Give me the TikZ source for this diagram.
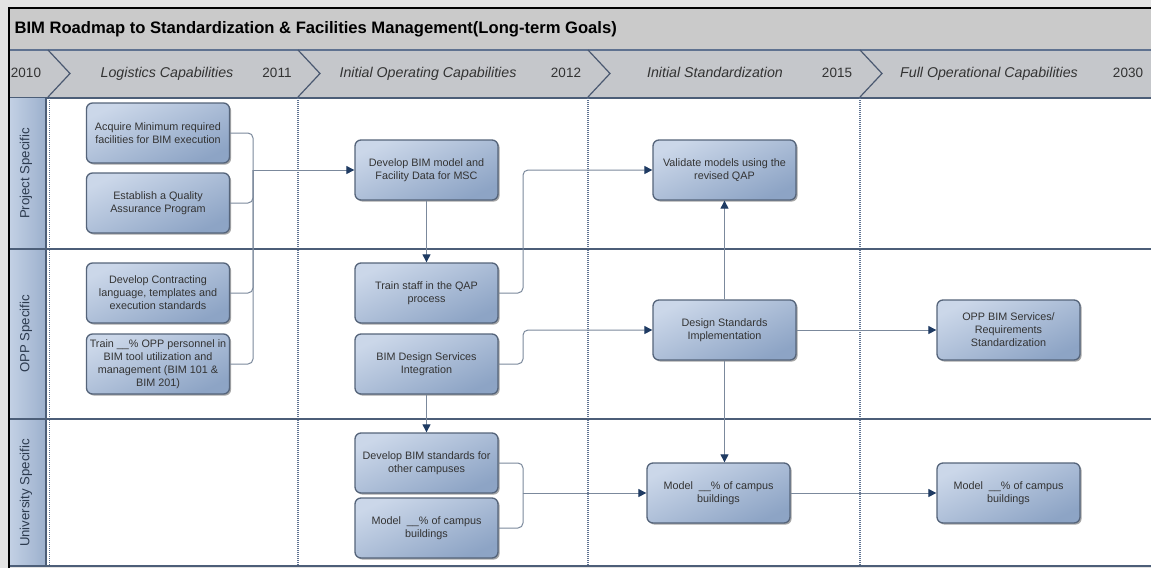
\documentclass[tikz,border=0pt]{standalone}
\usepackage{fontspec}
\setmainfont{Liberation Sans}
\usetikzlibrary{arrows.meta,shadows}

\definecolor{pagegray}{HTML}{E2E2E2}
\definecolor{titlegray}{HTML}{CACACA}
\definecolor{bandgray}{HTML}{C5C7CB}
\definecolor{rulecol}{HTML}{4C5E78}
\definecolor{dotcol}{HTML}{5F7290}
\definecolor{boxtop}{HTML}{CBD7E9}
\definecolor{boxbot}{HTML}{8DA4C5}
\definecolor{boxline}{HTML}{55647A}
\definecolor{wirecol}{HTML}{7B899C}
\definecolor{tipblue}{HTML}{1F3B63}
\definecolor{ink}{HTML}{333333}
\definecolor{laneink}{HTML}{2C3A4E}
\definecolor{lanelight}{HTML}{C2D0E4}
\definecolor{lanedark}{HTML}{9CB0CD}
\definecolor{chevcol}{HTML}{4A5870}

\tikzset{
  task/.style={draw=boxline, line width=1.3pt, rounded corners=6pt,
    top color=boxtop, bottom color=boxbot, shading angle=25,
    minimum width=143pt, minimum height=60pt, inner xsep=2pt,
    align=center, text=ink, font=\fontsize{10.8}{13}\selectfont,
    drop shadow={shadow xshift=1.6pt, shadow yshift=-1.6pt, opacity=0.35, fill=black}},
  link/.style={draw=wirecol, line width=1pt, rounded corners=5pt},
  flow/.style={link, -{Triangle[length=8pt,width=8pt,color=tipblue]}},
  lanehead/.style={left color=lanelight, right color=lanedark},
  lanelabel/.style={rotate=90, text=laneink, font=\fontsize{13.2}{16}\selectfont},
  phase/.style={text=ink, text height=10pt, text depth=3pt, font=\fontsize{14.2}{16}\selectfont\itshape},
  year/.style={text=ink, text height=10pt, text depth=3pt, font=\fontsize{13.5}{16}\selectfont},
  chev/.style={draw=chevcol, line width=1.2pt},
  colline/.style={draw=dotcol, line width=1.2pt, dash pattern=on 1pt off 1pt},
  laneline/.style={draw=rulecol, line width=1.5pt}
}

\begin{document}
\begin{tikzpicture}[x=1pt, y=-1pt]
\useasboundingbox (0,0) rectangle (1151,568);

% page and frame
\fill[pagegray] (0,0) rectangle (1151,568);
\fill[white] (10,98) rectangle (1151,566);
\fill[titlegray] (10,9) rectangle (1151,50);
\fill[bandgray] (10,50) rectangle (1151,97);
\draw[black, line width=2.5pt] (9,568) -- (9,8) -- (1151,8);
\draw[draw=dotcol, line width=1.2pt] (10,50) -- (1151,50);
\draw[draw=rulecol, line width=2pt] (10,97.5) -- (1151,97.5);

% title
\node[anchor=west, text=black, font=\fontsize{16.6}{19}\selectfont\bfseries] (title) at (11,29)
  {BIM Roadmap to Standardization \& Facilities Management(Long-term Goals)};

% timeline chevrons
\draw[chev] (48,50) -- (70,73.5) -- (48,97);
\draw[chev] (298,50) -- (320,73.5) -- (298,97);
\draw[chev] (588,50) -- (610,73.5) -- (588,97);
\draw[chev] (860,50) -- (882,73.5) -- (860,97);

% timeline labels
\node[year] (y2010) at (26,73.5) {2010};
\node[phase] (p1) at (167,73.5) {Logistics Capabilities};
\node[year] (y2011) at (277,73.5) {2011};
\node[phase] (p2) at (428,73.5) {Initial Operating Capabilities};
\node[year] (y2012) at (566,73.5) {2012};
\node[phase] (p3) at (715,73.5) {Initial Standardization};
\node[year] (y2015) at (837,73.5) {2015};
\node[phase] (p4) at (989,73.5) {Full Operational Capabilities};
\node[year] (y2030) at (1128,73.5) {2030};

% swimlane headers
\shade[lanehead] (10,98) rectangle (46,249);
\shade[lanehead] (10,249) rectangle (46,419);
\shade[lanehead] (10,419) rectangle (46,566);
\draw[laneline] (46,98) -- (46,566);
\node[lanelabel] (l1) at (26,173.5) {Project Specific};
\node[lanelabel] (l2) at (26,334) {OPP Specific};
\node[lanelabel] (l3) at (26,493) {University Specific};

% lane and phase separators
\draw[colline] (49.5,98) -- (49.5,566);
\draw[colline] (298,98) -- (298,566);
\draw[colline] (588,98) -- (588,566);
\draw[colline] (860,98) -- (860,566);
\draw[laneline] (10,249) -- (1151,249);
\draw[laneline] (10,419) -- (1151,419);
\draw[draw=rulecol, line width=2pt] (10,566) -- (1151,566);

% tasks
\node[task] (b1) at (158,133) {Acquire Minimum required\\facilities for BIM execution};
\node[task] (b2) at (158,203) {Establish a Quality\\Assurance Program};
\node[task] (b3) at (158,293) {Develop Contracting\\language, templates and\\execution standards};
\node[task] (b4) at (158,364) {Train \_\_\% OPP personnel in\\BIM tool utilization and\\management (BIM 101 \&\\BIM 201)};
\node[task] (b5) at (426.5,170) {Develop BIM model and\\Facility Data for MSC};
\node[task] (b6) at (426.5,293) {Train staff in the QAP\\process};
\node[task] (b7) at (426.5,364) {BIM Design Services\\Integration};
\node[task] (b8) at (426.5,463) {Develop BIM standards for\\other campuses};
\node[task] (b9) at (426.5,528) {Model \ \_\_\% of campus\\buildings};
\node[task] (b10) at (724.5,170) {Validate models using the\\revised QAP};
\node[task] (b11) at (724.5,330) {Design Standards\\Implementation};
\node[task] (b12) at (718.5,493) {Model \ \_\_\% of campus\\buildings};
\node[task] (b13) at (1008.5,330) {OPP BIM Services/\\Requirements\\Standardization};
\node[task] (b14) at (1008.5,493) {Model \ \_\_\% of campus\\buildings};

% connectors
\coordinate (j1) at (253,170);
\coordinate (j2) at (523,170);
\coordinate (j3) at (523,330);
\coordinate (j4) at (523,493);

\draw[link] (b1.east) -| (j1);
\draw[link] (b2.east) -| (j1);
\draw[link] (b3.east) -| (j1);
\draw[link] (b4.east) -| (j1);
\draw[flow] (j1) -- (b5.west);

\draw[flow] (b5.south) -- (b6.north);
\draw[flow] (b7.south) -- (b8.north);
\draw[flow] (b6.east) -| (j2) -- (b10.west);
\draw[flow] (b7.east) -| (j3) -- (b11.west);

\draw[link] (b8.east) -| (j4);
\draw[link] (b9.east) -| (j4);
\draw[flow] (j4) -- (b12.west);

\draw[flow] (b11.north) -- (b10.south);
\draw[flow] (b11.south) -- (b11.south |- b12.north);
\draw[flow] (b11.east) -- (b13.west);
\draw[flow] (b12.east) -- (b14.west);
\end{tikzpicture}
\end{document}
